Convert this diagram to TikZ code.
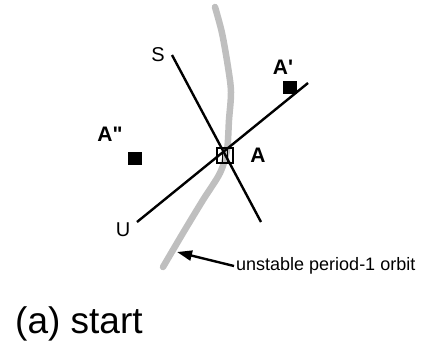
\documentclass[tikz,border=0pt]{standalone}
\usepackage{fontspec}
\setmainfont{Liberation Sans}
\usetikzlibrary{arrows.meta}

\begin{document}
\begin{tikzpicture}[x=1pt, y=-1pt, >={Triangle[length=15pt,width=10pt]},
      ln/.style={line width=2.4pt},
      orbit/.style={line width=6.5pt, gray!50, line cap=round},
      lab/.style={font=\fontsize{20}{22}\selectfont, inner sep=0pt},
      blab/.style={font=\fontsize{21}{23}\selectfont\bfseries, inner sep=0pt},
      pt/.style={fill=black, minimum width=14pt, minimum height=13pt, inner sep=0pt}]
  \useasboundingbox (0,0) rectangle (425,343);
  % unstable orbit
  \draw[orbit] plot[smooth] coordinates {(215,7) (222,33) (228,67) (231,92) (229,120)
      (227,150) (220,173) (203,200) (183,233) (163,267)};
  % manifolds
  \coordinate (s0) at (172,55);
  \coordinate (s1) at (261,222);
  \coordinate (u0) at (137,222);
  \coordinate (u1) at (308,83);
  \draw[ln] (s0) -- (s1);
  \draw[ln] (u0) -- (u1);
  \node[lab, anchor=east] (sl) at (165,55) {S};
  \node[lab] (ul) at (123,230) {U};
  % fixed point
  \draw[line width=1.4pt] (217,148) rectangle (233,163);
  \draw[line width=1.4pt] (222.3,148) -- (222.3,163) (227.7,148) -- (227.7,163);
  \node[blab] (a) at (258,155) {A};
  % other points
  \node[pt] (p1) at (290,87) {};
  \node[blab] (a1) at (283,67) {A\textquotesingle};
  \node[pt] (p2) at (134.5,158.5) {};
  \node[blab] (a2) at (110,134) {A\textquotedbl};
  % label
  \coordinate (tip) at (177,252);
  \node[font=\fontsize{18}{20}\selectfont, anchor=west, inner sep=2pt] (note) at (234,266) {unstable period-1 orbit};
  \draw[->, line width=2.4pt] (note.west) -- (tip);
  \node[font=\fontsize{37}{40}\selectfont, anchor=base west, inner sep=0pt] (cap) at (15,333) {(a) start};
\end{tikzpicture}
\end{document}
